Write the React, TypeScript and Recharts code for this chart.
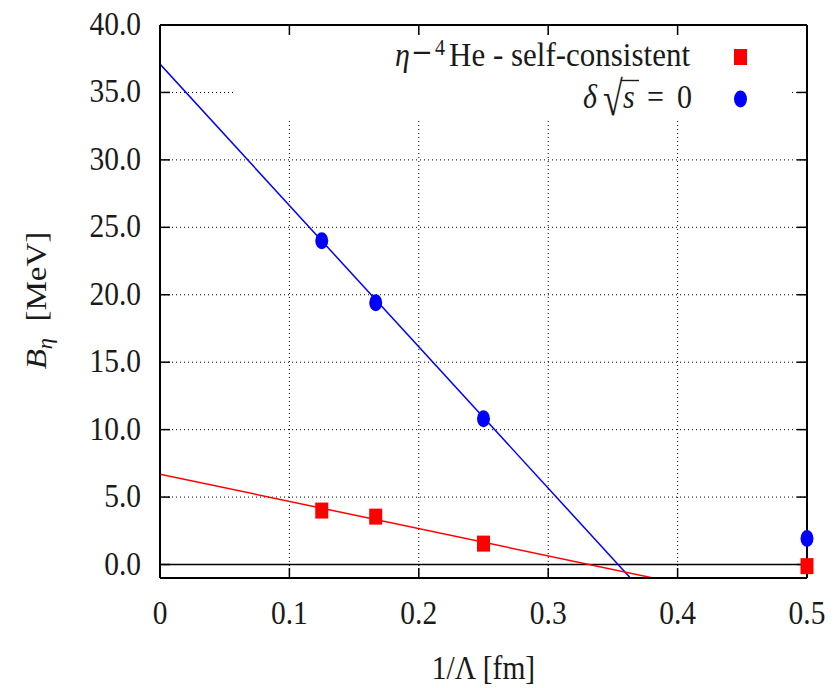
import React from 'react';
import {
  ComposedChart,
  Line,
  Scatter,
  XAxis,
  YAxis,
  CartesianGrid,
  ReferenceLine,
  Legend,
} from 'recharts';

// Axis ticks and their printed labels
const xTicks = [0, 0.1, 0.2, 0.3, 0.4, 0.5];
const xTickLabels = ['0', '0.1', '0.2', '0.3', '0.4', '0.5'];
const yTicks = [0, 5, 10, 15, 20, 25, 30, 35, 40];
const yTickLabels = ['0.0', '5.0', '10.0', '15.0', '20.0', '25.0', '30.0', '35.0', '40.0'];

// Inverse cutoff 1/Λ [fm] at which the binding energy was computed
const inverseCutoff = [0.125, 0.1667, 0.25, 0.5];
// B_η [MeV], η–4He self-consistent calculation
const selfConsistent = [4.0, 3.55, 1.55, -0.12];
// B_η [MeV], δ√s = 0
const zeroShift = [24.0, 19.4, 10.8, 1.93];

// Linear extrapolations to 1/Λ → 0 (end points of each fit line)
const fitX = [0, 0.5];
const selfConsistentFitY = [6.7, -3.4];
const zeroShiftFitY = [37.1, -15.3];

const selfConsistentPoints = inverseCutoff.map((x, i) => ({ x, y: selfConsistent[i] }));
const zeroShiftPoints = inverseCutoff.map((x, i) => ({ x, y: zeroShift[i] }));
const selfConsistentFit = fitX.map((x, i) => ({ x, y: selfConsistentFitY[i] }));
const zeroShiftFit = fitX.map((x, i) => ({ x, y: zeroShiftFitY[i] }));

const FONT = '"Liberation Serif", "Times New Roman", serif';
const MATH_FONT = '"DejaVu Serif", serif';
const INK = '#1a1a1a';
const STRETCH = 1.12;
const RED = '#ff0000';
const BLUE = '#0000ff';

type TxProps = {
  x: number;
  y: number;
  size?: number;
  sy?: number;
  font?: string;
  anchor?: 'start' | 'middle' | 'end';
  italic?: boolean;
  children: React.ReactNode;
};

// Text placed at a baseline point, slightly taller than wide like the TeX fonts
const Tx = ({
  x,
  y,
  size = 29.5,
  sy = STRETCH,
  font = FONT,
  anchor = 'start',
  italic = false,
  children,
}: TxProps) => (
  <text
    transform={`translate(${x},${y}) scale(1,${sy})`}
    textAnchor={anchor}
    fontFamily={font}
    fontSize={size}
    fontStyle={italic ? 'italic' : 'normal'}
    fill={INK}
  >
    {children}
  </text>
);

const XTick = (props: any) => {
  const { x, y, payload } = props;
  const idx = xTicks.indexOf(payload.value);
  return (
    <Tx x={x} y={y + 56} anchor="middle">
      {idx >= 0 ? xTickLabels[idx] : ''}
    </Tx>
  );
};

const YTick = (props: any) => {
  const { x, y, payload } = props;
  const idx = yTicks.indexOf(payload.value);
  return (
    <Tx x={x - 29} y={y + 10} anchor="end">
      {idx >= 0 ? yTickLabels[idx] : ''}
    </Tx>
  );
};

const XTitle = (props: any) => {
  const vb = props.viewBox || { x: 160, y: 578, width: 647, height: 110 };
  return (
    <Tx x={vb.x + vb.width / 2} y={vb.y + 101} anchor="middle">
      1/Λ [fm]
    </Tx>
  );
};

const YTitle = (props: any) => {
  const vb = props.viewBox || { x: 0, y: 25, width: 160, height: 553 };
  const cx = vb.x + 46;
  const cy = vb.y + vb.height / 2 - 1;
  return (
    <text
      transform={`translate(${cx},${cy}) scale(1,${STRETCH}) rotate(-90)`}
      textAnchor="middle"
      fontFamily={FONT}
      fontSize={29.5}
      fill={INK}
    >
      <tspan fontStyle="italic">B</tspan>
      <tspan fontStyle="italic" fontSize={20} dy={6}>η</tspan>
      <tspan dy={-6}>{'\u2002[MeV]'}</tspan>
    </text>
  );
};

const SquareMark = (props: any) => {
  const { cx, cy } = props;
  if (cx == null || cy == null) return null;
  return <rect x={cx - 6.5} y={cy - 8} width={13} height={16} fill={RED} />;
};

const CircleMark = (props: any) => {
  const { cx, cy } = props;
  if (cx == null || cy == null) return null;
  return <ellipse cx={cx} cy={cy} rx={6.5} ry={8.5} fill={BLUE} />;
};

// Key in the upper right corner of the plot: a white box starting
// just below the top tick marks, with room above it for the glyph ascent.
const KEY_PAD = 12;
const KeyBox = () => (
  <svg width={555} height={82 + KEY_PAD} style={{ display: 'block', overflow: 'visible' }}>
    <rect x={0} y={KEY_PAD} width={555} height={82} fill="#ffffff" />
    <g transform={`translate(0,${KEY_PAD})`}>
      {/* η−4He - self-consistent */}
      <Tx x={160} y={29} size={30} italic>η</Tx>
      <Tx x={176} y={25} size={26} font={MATH_FONT}>{'\u2212'}</Tx>
      <Tx x={200} y={18} size={20}>4</Tx>
      <Tx x={214} y={29} size={31}>He - self-consistent</Tx>
      <rect x={499} y={12} width={13} height={16} fill={RED} />
      {/* δ√s = 0 */}
      <Tx x={348} y={71} size={30} italic>δ</Tx>
      <Tx x={368} y={78} size={36} sy={1.35}>√</Tx>
      <line x1={386} y1={43.5} x2={404} y2={43.5} stroke={INK} strokeWidth={1.4} />
      <Tx x={388} y={71} size={30} italic>s</Tx>
      <Tx x={412} y={71} size={30}>=</Tx>
      <Tx x={457} y={71} size={30} anchor="end">0</Tx>
      <ellipse cx={505.5} cy={62} rx={6.5} ry={8.5} fill={BLUE} />
    </g>
  </svg>
);

export default function App() {
  return (
    <div style={{ position: 'absolute', left: 0, top: 0, width: 839, height: 688, background: '#ffffff' }}>
      <ComposedChart
        width={839}
        height={688}
        margin={{ top: 24, right: 31, bottom: 0, left: 0 }}
      >
        <CartesianGrid stroke="#000000" strokeDasharray="1 3" strokeWidth={1} />
        <XAxis
          type="number"
          dataKey="x"
          domain={[0, 0.5]}
          ticks={xTicks}
          interval={0}
          allowDataOverflow
          height={110}
          tickSize={-10}
          tickMargin={0}
          tick={<XTick />}
          axisLine={{ stroke: '#000000', strokeWidth: 2 }}
          tickLine={{ stroke: '#000000', strokeWidth: 1.5 }}
          label={(p: any) => <XTitle {...p} />}
        />
        <XAxis
          xAxisId="top"
          orientation="top"
          type="number"
          dataKey="x"
          domain={[0, 0.5]}
          ticks={xTicks}
          interval={0}
          height={1}
          tickSize={-10}
          tickFormatter={() => ''}
          axisLine={{ stroke: '#000000', strokeWidth: 2 }}
          tickLine={{ stroke: '#000000', strokeWidth: 1.5 }}
        />
        <YAxis
          type="number"
          domain={[-1, 40]}
          ticks={yTicks}
          interval={0}
          allowDataOverflow
          width={160}
          tickSize={-10}
          tickMargin={0}
          tick={<YTick />}
          axisLine={{ stroke: '#000000', strokeWidth: 2 }}
          tickLine={{ stroke: '#000000', strokeWidth: 1.5 }}
          label={(p: any) => <YTitle {...p} />}
        />
        <YAxis
          yAxisId="right"
          orientation="right"
          type="number"
          domain={[-1, 40]}
          ticks={yTicks}
          interval={0}
          width={1}
          tickSize={-10}
          tickFormatter={() => ''}
          axisLine={{ stroke: '#000000', strokeWidth: 2 }}
          tickLine={{ stroke: '#000000', strokeWidth: 1.5 }}
        />
        <ReferenceLine y={0} stroke="#000000" strokeWidth={1.6} />
        <Line
          data={zeroShiftFit}
          dataKey="y"
          type="linear"
          stroke={BLUE}
          strokeWidth={1.5}
          dot={false}
          activeDot={false}
          isAnimationActive={false}
        />
        <Line
          data={selfConsistentFit}
          dataKey="y"
          type="linear"
          stroke={RED}
          strokeWidth={1.5}
          dot={false}
          activeDot={false}
          isAnimationActive={false}
        />
        <Scatter
          data={selfConsistentPoints}
          dataKey="y"
          xAxisId="top"
          yAxisId="right"
          shape={<SquareMark />}
          isAnimationActive={false}
        />
        <Scatter
          data={zeroShiftPoints}
          dataKey="y"
          xAxisId="top"
          yAxisId="right"
          shape={<CircleMark />}
          isAnimationActive={false}
        />
        <Legend
          layout="horizontal"
          verticalAlign="middle"
          align="center"
          wrapperStyle={{ position: 'absolute', left: 235, top: 37 - KEY_PAD, width: 555, height: 82 + KEY_PAD }}
          content={() => <KeyBox />}
        />
      </ComposedChart>
    </div>
  );
}
